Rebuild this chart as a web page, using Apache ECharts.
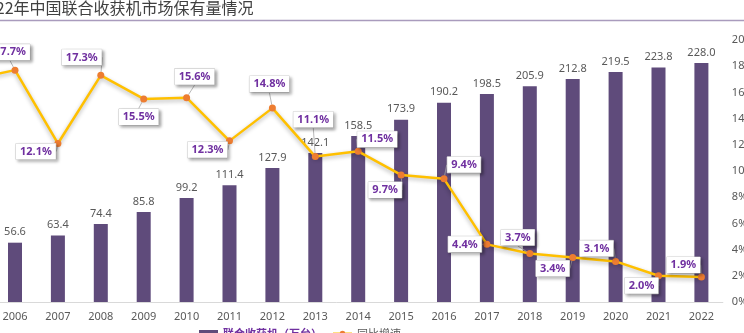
<!DOCTYPE html>
<html>
<head>
<meta charset="utf-8">
<script src="https://cdn.jsdelivr.net/npm/echarts@6/dist/echarts.min.js"></script>
<style>
  html, body { margin: 0; padding: 0; background: #fff; overflow: hidden; }
  #wrap { position: relative; width: 744px; height: 333px; overflow: hidden; }
  #chart { position: absolute; left: -100px; top: 0; width: 844px; height: 333px; }
</style>
</head>
<body>
<div id="wrap"><div id="chart"></div></div>
<script>
// Years, combine-harvester stock (10k units) and year-on-year growth (%)
const years = ['2005', '2006', '2007', '2008', '2009', '2010', '2011', '2012', '2013',
  '2014', '2015', '2016', '2017', '2018', '2019', '2020', '2021', '2022'];
const stock = [48.1, 56.6, 63.4, 74.4, 85.8, 99.2, 111.4, 127.9, 142.1,
  158.5, 173.9, 190.2, 198.5, 205.9, 212.8, 219.5, 223.8, 228.0];
const growth = [17.0, 17.7, 12.1, 17.3, 15.5, 15.6, 12.3, 14.8, 11.1,
  11.5, 9.7, 9.4, 4.4, 3.7, 3.4, 3.1, 2.0, 1.9];
const stockTicks = [0, 50, 100, 150, 200, 250];
const growthTicks = [0, 2, 4, 6, 8, 10, 12, 14, 16, 18, 20];

// Callout offsets (px) of each growth label from its point
const calloutOffsets = [
  [-30, -18], [-5, -18], [-22, 8], [-19, -18], [-5, 18], [8, -21], [-22, 9], [-3, -24],
  [-2, -37], [19, -12], [-16, 15], [20, -14], [-22, 0], [-12, -16], [-20, 11],
  [-19, -13], [-17, 10], [-18, -12]
];

const PURPLE_TEXT = '#7030a0';
const BAR = '#5f4b7b';
const LINE = '#ffc000';
const DOT = '#ed7d31';
const GRAY = '#595959';

const chart = echarts.init(document.getElementById('chart'), null, { renderer: 'canvas' });

chart.setOption({
  backgroundColor: '#ffffff',
  animation: false,
  title: {
    text: '2022年中国联合收获机市场保有量情况',
    left: 78,
    top: 0,
    padding: 0,
    textStyle: { fontFamily: 'Noto Sans CJK SC', fontSize: 16, fontWeight: 'normal', color: '#404040' }
  },
  graphic: [{
    type: 'line',
    shape: { x1: 0, y1: 20.5, x2: 844, y2: 20.5 },
    style: { stroke: '#a99bbd', lineWidth: 1.5 },
    silent: true
  }],
  legend: {
    left: 294,
    top: 323,
    itemGap: 10,
    itemWidth: 19,
    itemHeight: 7,
    textStyle: { fontFamily: 'Noto Sans CJK SC', fontSize: 11, color: GRAY },
    data: [
      { name: '联合收获机（万台）', icon: 'rect',
        textStyle: { color: PURPLE_TEXT, fontWeight: 'bold' } },
      { name: '同比增速' }
    ]
  },
  grid: { left: 50.65, right: 21.15, top: 40, bottom: 31, containLabel: false, outerBoundsMode: 'none' },
  xAxis: {
    type: 'category',
    data: years,
    axisLine: { lineStyle: { color: '#d9d9d9', width: 1 } },
    axisTick: { show: false },
    axisLabel: { color: GRAY, fontSize: 11, margin: 9, fontFamily: 'Noto Sans' }
  },
  yAxis: [{
    type: 'value',
    min: stockTicks[0],
    max: stockTicks[stockTicks.length - 1],
    interval: stockTicks[1] - stockTicks[0],
    splitLine: { show: false },
    axisLine: { show: false },
    axisTick: { show: false },
    axisLabel: { color: GRAY, fontSize: 11 }
  }, {
    type: 'value',
    position: 'right',
    min: growthTicks[0],
    max: growthTicks[growthTicks.length - 1],
    interval: growthTicks[1] - growthTicks[0],
    splitLine: { show: false },
    axisLine: { show: false },
    axisTick: { show: false },
    axisLabel: { color: GRAY, fontSize: 11, margin: 9, fontFamily: 'Noto Sans',
      formatter: '{value}%' }
  }],
  series: [{
    name: '联合收获机（万台）',
    type: 'bar',
    data: stock,
    barWidth: 14,
    itemStyle: { color: BAR },
    label: {
      show: true,
      position: 'top',
      distance: 5,
      color: GRAY,
      fontSize: 11,
      fontFamily: 'Noto Sans',
      formatter: p => p.value.toFixed(1)
    },
    z: 2
  }, {
    name: '同比增速',
    type: 'line',
    yAxisIndex: 1,
    data: growth,
    symbol: 'circle',
    symbolSize: 7,
    itemStyle: { color: DOT },
    lineStyle: {
      color: LINE, width: 2.5,
      shadowColor: 'rgba(0,0,0,0.3)', shadowBlur: 4, shadowOffsetY: 2
    },
    label: {
      show: true,
      position: 'inside',
      formatter: p => p.value.toFixed(1) + '%',
      color: PURPLE_TEXT,
      fontWeight: 'bold',
      fontSize: 11,
      fontFamily: 'Noto Sans',
      backgroundColor: '#ffffff',
      borderColor: '#c8c8c8',
      borderWidth: 0.5,
      padding: [3, 4, 2, 4],
      shadowColor: 'rgba(0,0,0,0.35)',
      shadowBlur: 3,
      shadowOffsetX: 2,
      shadowOffsetY: 2
    },
    labelLine: {
      show: true,
      lineStyle: { color: '#a6a6a6', width: 0.8 }
    },
    labelLayout: function (params) {
      const o = calloutOffsets[params.dataIndex];
      return { dx: o[0], dy: o[1] };
    },
    z: 5
  }]
});
</script>
</body>
</html>
